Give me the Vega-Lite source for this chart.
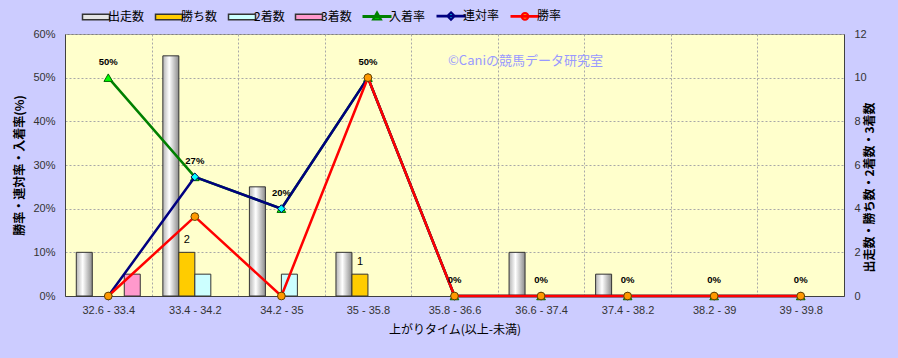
{
  "$schema": "https://vega.github.io/schema/vega-lite/v6.json",
  "width": 779,
  "height": 262,
  "autosize": {"type": "none"},
  "padding": {"left": 65, "top": 34, "right": 54, "bottom": 62},
  "background": "#CCCCFF",
  "title": {
    "text": "©Caniの競馬データ研究室",
    "anchor": "middle",
    "frame": "group",
    "dx": 71,
    "dy": 58,
    "offset": 0,
    "color": "#9999FF",
    "fontSize": 13,
    "fontWeight": "normal",
    "font": "Noto Sans CJK JP"
  },
  "datasets": {
    "counts": [
      {"cat": "32.6 - 33.4", "series": "出走数", "value": 2},
      {"cat": "33.4 - 34.2", "series": "出走数", "value": 11},
      {"cat": "34.2 - 35", "series": "出走数", "value": 5},
      {"cat": "35 - 35.8", "series": "出走数", "value": 2},
      {"cat": "35.8 - 36.6", "series": "出走数", "value": 0},
      {"cat": "36.6 - 37.4", "series": "出走数", "value": 2},
      {"cat": "37.4 - 38.2", "series": "出走数", "value": 1},
      {"cat": "38.2 - 39", "series": "出走数", "value": 0},
      {"cat": "39 - 39.8", "series": "出走数", "value": 0},
      {"cat": "32.6 - 33.4", "series": "勝ち数", "value": 0},
      {"cat": "33.4 - 34.2", "series": "勝ち数", "value": 2},
      {"cat": "34.2 - 35", "series": "勝ち数", "value": 0},
      {"cat": "35 - 35.8", "series": "勝ち数", "value": 1},
      {"cat": "35.8 - 36.6", "series": "勝ち数", "value": 0},
      {"cat": "36.6 - 37.4", "series": "勝ち数", "value": 0},
      {"cat": "37.4 - 38.2", "series": "勝ち数", "value": 0},
      {"cat": "38.2 - 39", "series": "勝ち数", "value": 0},
      {"cat": "39 - 39.8", "series": "勝ち数", "value": 0},
      {"cat": "32.6 - 33.4", "series": "2着数", "value": 0},
      {"cat": "33.4 - 34.2", "series": "2着数", "value": 1},
      {"cat": "34.2 - 35", "series": "2着数", "value": 1},
      {"cat": "35 - 35.8", "series": "2着数", "value": 0},
      {"cat": "35.8 - 36.6", "series": "2着数", "value": 0},
      {"cat": "36.6 - 37.4", "series": "2着数", "value": 0},
      {"cat": "37.4 - 38.2", "series": "2着数", "value": 0},
      {"cat": "38.2 - 39", "series": "2着数", "value": 0},
      {"cat": "39 - 39.8", "series": "2着数", "value": 0},
      {"cat": "32.6 - 33.4", "series": "3着数", "value": 1},
      {"cat": "33.4 - 34.2", "series": "3着数", "value": 0},
      {"cat": "34.2 - 35", "series": "3着数", "value": 0},
      {"cat": "35 - 35.8", "series": "3着数", "value": 0},
      {"cat": "35.8 - 36.6", "series": "3着数", "value": 0},
      {"cat": "36.6 - 37.4", "series": "3着数", "value": 0},
      {"cat": "37.4 - 38.2", "series": "3着数", "value": 0},
      {"cat": "38.2 - 39", "series": "3着数", "value": 0},
      {"cat": "39 - 39.8", "series": "3着数", "value": 0}
    ],
    "rates": [
      {"cat": "32.6 - 33.4", "series": "入着率", "value": 0.5},
      {"cat": "33.4 - 34.2", "series": "入着率", "value": 0.2727},
      {"cat": "34.2 - 35", "series": "入着率", "value": 0.2},
      {"cat": "35 - 35.8", "series": "入着率", "value": 0.5},
      {"cat": "35.8 - 36.6", "series": "入着率", "value": 0},
      {"cat": "36.6 - 37.4", "series": "入着率", "value": 0},
      {"cat": "37.4 - 38.2", "series": "入着率", "value": 0},
      {"cat": "38.2 - 39", "series": "入着率", "value": 0},
      {"cat": "39 - 39.8", "series": "入着率", "value": 0},
      {"cat": "32.6 - 33.4", "series": "連対率", "value": 0},
      {"cat": "33.4 - 34.2", "series": "連対率", "value": 0.2727},
      {"cat": "34.2 - 35", "series": "連対率", "value": 0.2},
      {"cat": "35 - 35.8", "series": "連対率", "value": 0.5},
      {"cat": "35.8 - 36.6", "series": "連対率", "value": 0},
      {"cat": "36.6 - 37.4", "series": "連対率", "value": 0},
      {"cat": "37.4 - 38.2", "series": "連対率", "value": 0},
      {"cat": "38.2 - 39", "series": "連対率", "value": 0},
      {"cat": "39 - 39.8", "series": "連対率", "value": 0},
      {"cat": "32.6 - 33.4", "series": "勝率", "value": 0},
      {"cat": "33.4 - 34.2", "series": "勝率", "value": 0.1818},
      {"cat": "34.2 - 35", "series": "勝率", "value": 0},
      {"cat": "35 - 35.8", "series": "勝率", "value": 0.5},
      {"cat": "35.8 - 36.6", "series": "勝率", "value": 0},
      {"cat": "36.6 - 37.4", "series": "勝率", "value": 0},
      {"cat": "37.4 - 38.2", "series": "勝率", "value": 0},
      {"cat": "38.2 - 39", "series": "勝率", "value": 0},
      {"cat": "39 - 39.8", "series": "勝率", "value": 0}
    ]
  },
  "encoding": {
    "x": {
      "field": "cat",
      "type": "nominal",
      "scale": {
        "domain": ["32.6 - 33.4", "33.4 - 34.2", "34.2 - 35", "35 - 35.8", "35.8 - 36.6", "36.6 - 37.4", "37.4 - 38.2", "38.2 - 39", "39 - 39.8"],
        "paddingInner": 0,
        "paddingOuter": 0
      },
      "axis": {
        "title": "上がりタイム(以上-未満)",
        "labelAngle": 0,
        "tickBand": "extent",
        "grid": true,
        "labelPadding": 8,
        "titlePadding": 9,
        "titleFontWeight": "normal"
      }
    }
  },
  "layer": [
    {
      "data": {"name": "counts"},
      "transform": [{"filter": "datum.value > 0"}],
      "encoding": {
        "y": {
          "field": "value",
          "type": "quantitative",
          "scale": {"domain": [0, 12], "nice": false},
          "axis": {
            "orient": "right",
            "values": [0, 2, 4, 6, 8, 10, 12],
            "title": "出走数・勝ち数・2着数・3着数",
            "grid": false,
            "labelPadding": 10,
            "titleAngle": -90,
            "titlePadding": 10,
            "titleY": 153,
            "titleFontWeight": "bold"
          }
        },
        "xOffset": {
          "field": "series",
          "type": "nominal",
          "scale": {"domain": ["出走数", "勝ち数", "2着数", "3着数"], "paddingOuter": 0.706, "paddingInner": 0}
        }
      },
      "layer": [
        {
          "transform": [{"filter": "datum.series === '出走数'"}],
          "mark": {
            "type": "bar",
            "stroke": "#333333",
            "strokeWidth": 1,
            "fill": {
              "gradient": "linear",
              "x1": 0, "y1": 0, "x2": 1, "y2": 0,
              "stops": [
                {"offset": 0, "color": "#B4B4B4"},
                {"offset": 0.4, "color": "#FFFFFF"},
                {"offset": 1, "color": "#8C8C8C"}
              ]
            }
          }
        },
        {
          "transform": [{"filter": "datum.series !== '出走数'"}],
          "mark": {"type": "bar", "stroke": "#333333", "strokeWidth": 1},
          "encoding": {
            "fill": {
              "field": "series",
              "type": "nominal",
              "scale": {
                "domain": ["出走数", "勝ち数", "2着数", "3着数", "入着率", "連対率", "勝率"],
                "range": ["#E4E4E4", "#FFCC00", "#CCFFFF", "#FF99CC", "#00FF00", "#00FFFF", "#FF9900"]
              },
              "legend": {
                "orient": "none",
                "legendX": 25,
                "legendY": -24,
                "direction": "horizontal",
                "columns": 7,
                "title": null,
                "padding": 0,
                "symbolSize": 729,
                "symbolOpacity": 1,
                "symbolType": {"expr": "datum.value === '入着率' ? 'M-1,-0.03H1V0.03H-1Z M0,-0.32L0.3,0.22L-0.3,0.22Z' : datum.value === '連対率' ? 'M-1,-0.03H1V0.03H-1Z M0,-0.28L0.28,0L0,0.28L-0.28,0Z' : datum.value === '勝率' ? 'M-1,-0.03H1V0.03H-1Z M-0.25,0A0.25,0.25,0,1,1,0.25,0A0.25,0.25,0,1,1,-0.25,0Z' : 'M-1,-0.2H1V0.2H-1Z'"},
                "symbolStrokeWidth": {"expr": "indexof(['入着率','連対率','勝率'], datum.value) >= 0 ? 2 : 1.5"},
                "labelFont": "Noto Sans CJK JP",
                "labelFontSize": 12,
                "labelColor": "#000000",
                "labelOffset": 6,
                "columnPadding": 7
              }
            }
          }
        },
        {
          "transform": [{"filter": "datum.series === '勝ち数'"}],
          "mark": {"type": "text", "dy": -12, "fontSize": 11, "font": "Liberation Sans", "color": "#000000"},
          "encoding": {"text": {"field": "value", "type": "quantitative"}}
        }
      ]
    },
    {
      "data": {"name": "rates"},
      "encoding": {
        "y": {
          "field": "value",
          "type": "quantitative",
          "scale": {"domain": [0, 0.6], "nice": false},
          "axis": {
            "orient": "left",
            "values": [0, 0.1, 0.2, 0.3, 0.4, 0.5, 0.6],
            "format": ".0%",
            "title": "勝率・連対率・入着率(%)",
            "grid": true,
            "labelPadding": 10,
            "titlePadding": 6,
            "titleFontWeight": "bold"
          }
        }
      },
      "layer": [
        {
          "transform": [{"filter": "datum.series === '入着率'"}],
          "mark": {"type": "line", "strokeWidth": 2.5},
          "encoding": {
            "stroke": {
              "field": "series",
              "type": "nominal",
              "scale": {
                "domain": ["出走数", "勝ち数", "2着数", "3着数", "入着率", "連対率", "勝率"],
                "range": ["#333333", "#333333", "#333333", "#333333", "#008000", "#000080", "#FF0000"]
              }
            }
          }
        },
        {
          "transform": [{"filter": "datum.series === '入着率'"}],
          "mark": {"type": "point", "shape": "triangle-up", "filled": true, "fill": "#00FF00", "stroke": "#006400", "strokeWidth": 1, "size": 75, "opacity": 1}
        },
        {
          "transform": [{"filter": "datum.series === '連対率'"}],
          "mark": {"type": "line", "strokeWidth": 2.5},
          "encoding": {"stroke": {"field": "series", "type": "nominal"}}
        },
        {
          "transform": [{"filter": "datum.series === '連対率'"}],
          "mark": {"type": "point", "shape": "diamond", "filled": true, "fill": "#00FFFF", "stroke": "#000060", "strokeWidth": 1, "size": 60, "opacity": 1}
        },
        {
          "transform": [{"filter": "datum.series === '勝率'"}],
          "mark": {"type": "line", "strokeWidth": 2.5},
          "encoding": {"stroke": {"field": "series", "type": "nominal"}}
        },
        {
          "transform": [{"filter": "datum.series === '勝率'"}],
          "mark": {"type": "point", "shape": "circle", "filled": true, "fill": "#FF9900", "stroke": "#604000", "strokeWidth": 1, "size": 60, "opacity": 1}
        },
        {
          "transform": [{"filter": "datum.series === '入着率'"}],
          "mark": {"type": "text", "dy": -16, "fontSize": 9.5, "fontWeight": "bold", "font": "Liberation Sans", "color": "#000000"},
          "encoding": {"text": {"field": "value", "type": "quantitative", "format": ".0%"}}
        }
      ]
    }
  ],
  "resolve": {"scale": {"y": "independent"}},
  "config": {
    "font": "Noto Sans CJK JP",
    "view": {"fill": "#FFFFCC", "stroke": "#808080"},
    "axis": {
      "labelFont": "Liberation Sans",
      "labelFontSize": 11,
      "labelColor": "#333333",
      "titleFont": "Noto Sans CJK JP",
      "titleFontSize": 12,
      "titleColor": "#000000",
      "domainColor": "#404040",
      "gridColor": "#A8A8A8",
      "gridDash": [2, 2],
      "ticks": false
    }
  }
}
